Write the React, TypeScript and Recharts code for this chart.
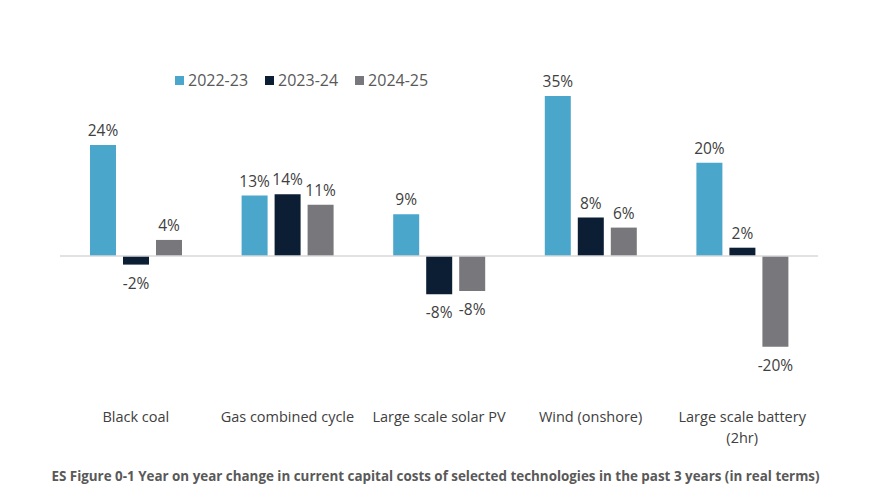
import { BarChart, Bar, XAxis, YAxis, Legend, ReferenceLine, LabelList } from 'recharts';

const categories = ['Black coal', 'Gas combined cycle', 'Large scale solar PV', 'Wind (onshore)', 'Large scale battery (2hr)'];
const tickLines = [['Black coal'], ['Gas combined cycle'], ['Large scale solar PV'], ['Wind (onshore)'], ['Large scale battery', '(2hr)']];
const seriesNames = ['2022-23', '2023-24', '2024-25'];
const fy2223 = [24.3, 13.2, 9.1, 35, 20.4];
const fy2324 = [-1.9, 13.5, -8.4, 8.4, 1.8];
const fy2425 = [3.5, 11.2, -7.7, 6.2, -19.9];
const colors = ['#4BA6CC', '#0B1E34', '#78787C'];

const FONT = '"Open Sans", "Liberation Sans", sans-serif';

const chartData = categories.map((c, i) => ({ name: c, a: fy2223[i], b: fy2324[i], c: fy2425[i] }));

function BarLabel(props: any) {
  const { x, y, width, height, value } = props;
  const top = Math.min(y, y + height);
  const bottom = Math.max(y, y + height);
  const cx = x + width / 2;
  const ty = value >= 0 ? top - 9 : bottom + 24;
  return (
    <text x={cx} y={ty} textAnchor="middle" fontSize={15.5} fill="#404040" fontFamily={FONT}>
      {`${Math.round(value)}%`}
    </text>
  );
}

function CatTick(props: any) {
  const { x, y, index } = props;
  const lines = tickLines[index] || [props.payload.value];
  return (
    <g>
      {lines.map((l, i) => (
        <text key={i} x={x} y={y + 21 + i * 21} textAnchor="middle" fontSize={14.5} fill="#404040" fontFamily={FONT}>
          {l}
        </text>
      ))}
    </g>
  );
}

function LegendBox() {
  return (
    <div style={{ display: 'flex', alignItems: 'center', fontFamily: FONT, fontSize: 16, color: '#595959' }}>
      {seriesNames.map((n, i) => (
        <div key={n} style={{ display: 'flex', alignItems: 'center', marginRight: 17 }}>
          <span style={{ width: 9, height: 9, background: colors[i], display: 'inline-block', marginRight: 4 }} />
          <span>{n}</span>
        </div>
      ))}
    </div>
  );
}

export default function App() {
  return (
    <div style={{ position: 'absolute', left: 0, top: 0, width: 871, height: 500, background: '#fff' }}>
      <BarChart
        width={871}
        height={500}
        data={chartData}
        margin={{ top: 96, right: 53, left: 60, bottom: 77 }}
        barGap={7}
        barCategoryGap={30}
      >
        <XAxis dataKey="name" axisLine={false} tickLine={false} interval={0} height={30} tick={<CatTick />} />
        <YAxis hide domain={[-30, 35]} />
        <ReferenceLine y={0} stroke="#D9D9D9" strokeWidth={1.5} />
        <Legend
          verticalAlign="middle"
          content={<LegendBox />}
          wrapperStyle={{ top: 69, left: 175, width: 'auto' }}
        />
        <Bar dataKey="a" name={seriesNames[0]} fill={colors[0]} isAnimationActive={false}>
          <LabelList dataKey="a" content={<BarLabel />} />
        </Bar>
        <Bar dataKey="b" name={seriesNames[1]} fill={colors[1]} isAnimationActive={false}>
          <LabelList dataKey="b" content={<BarLabel />} />
        </Bar>
        <Bar dataKey="c" name={seriesNames[2]} fill={colors[2]} isAnimationActive={false}>
          <LabelList dataKey="c" content={<BarLabel />} />
        </Bar>
      </BarChart>
      <div
        style={{
          position: 'absolute',
          top: 467,
          left: 0,
          width: 871,
          textAlign: 'center',
          fontFamily: FONT,
          fontWeight: 700,
          fontSize: 13.4,
          color: '#595959',
        }}
      >
        ES Figure 0-1 Year on year change in current capital costs of selected technologies in the past 3 years (in real terms)
      </div>
    </div>
  );
}
